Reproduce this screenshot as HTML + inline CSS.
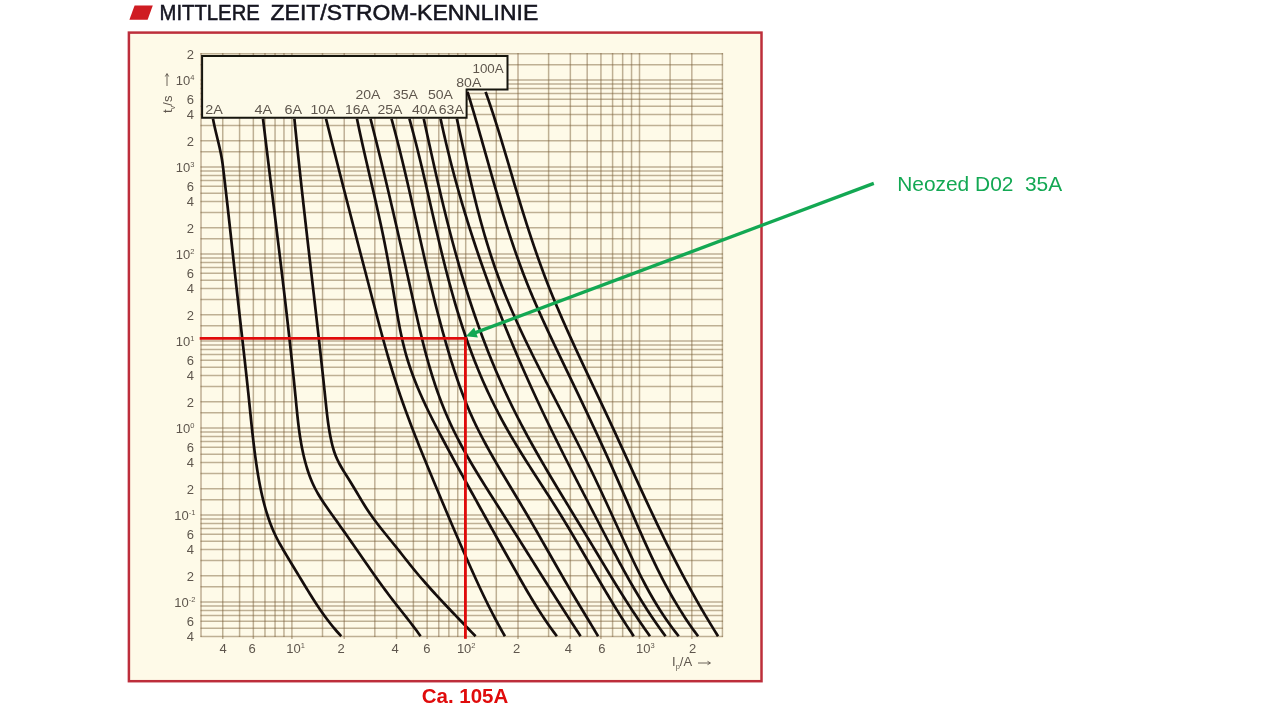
<!DOCTYPE html>
<html lang="de"><head><meta charset="utf-8"><title>Mittlere Zeit/Strom-Kennlinie</title>
<style>html,body{margin:0;padding:0;background:#fff;}body{width:1280px;height:720px;overflow:hidden;}svg{display:block;}text{font-family:"Liberation Sans",sans-serif;}</style>
</head><body>
<svg width="1280" height="720" viewBox="0 0 1280 720">
<defs><filter id="soft" x="-2%" y="-2%" width="104%" height="104%"><feGaussianBlur stdDeviation="0.55"/></filter><filter id="gsoft" x="-2%" y="-2%" width="104%" height="104%"><feGaussianBlur stdDeviation="0.4"/></filter><filter id="soft2" x="-2%" y="-2%" width="104%" height="104%"><feGaussianBlur stdDeviation="0.35"/></filter></defs>
<rect width="1280" height="720" fill="#ffffff"/>
<g filter="url(#soft2)">
<polygon points="134.6,5.5 152.8,5.5 147.6,19.8 129.4,19.8" fill="#cf1a22"/>
<text x="159.6" y="19.9" font-size="21.5" fill="#14141f" textLength="100.2" lengthAdjust="spacingAndGlyphs" stroke="#14141f" stroke-width="0.5">MITTLERE</text>
<text x="270.6" y="19.9" font-size="21.5" fill="#14141f" textLength="267.6" lengthAdjust="spacingAndGlyphs" stroke="#14141f" stroke-width="0.5">ZEIT/STROM-KENNLINIE</text>
</g>
<g filter="url(#soft)">
<rect x="128.9" y="32.6" width="632.6" height="648.6" fill="#fefae8" stroke="#bd2f3a" stroke-width="2.5"/>
<g stroke="#7a5f38" stroke-opacity="0.48" stroke-width="1.5" fill="none" filter="url(#gsoft)">
<line x1="201.02" y1="53.01" x2="201.02" y2="637.12"/>
<line x1="222.74" y1="53.01" x2="222.74" y2="639.12"/>
<line x1="239.58" y1="53.01" x2="239.58" y2="637.12"/>
<line x1="253.34" y1="53.01" x2="253.34" y2="639.12"/>
<line x1="264.98" y1="53.01" x2="264.98" y2="637.12"/>
<line x1="275.06" y1="53.01" x2="275.06" y2="637.12"/>
<line x1="283.95" y1="53.01" x2="283.95" y2="637.12"/>
<line x1="291.90" y1="53.01" x2="291.90" y2="639.12"/>
<line x1="322.50" y1="53.01" x2="322.50" y2="637.12"/>
<line x1="344.22" y1="53.01" x2="344.22" y2="639.12"/>
<line x1="374.82" y1="53.01" x2="374.82" y2="637.12"/>
<line x1="396.54" y1="53.01" x2="396.54" y2="639.12"/>
<line x1="413.38" y1="53.01" x2="413.38" y2="637.12"/>
<line x1="427.14" y1="53.01" x2="427.14" y2="639.12"/>
<line x1="438.78" y1="53.01" x2="438.78" y2="637.12"/>
<line x1="448.86" y1="53.01" x2="448.86" y2="637.12"/>
<line x1="457.75" y1="53.01" x2="457.75" y2="637.12"/>
<line x1="465.70" y1="53.01" x2="465.70" y2="639.12"/>
<line x1="496.30" y1="53.01" x2="496.30" y2="637.12"/>
<line x1="518.02" y1="53.01" x2="518.02" y2="639.12"/>
<line x1="548.62" y1="53.01" x2="548.62" y2="637.12"/>
<line x1="570.34" y1="53.01" x2="570.34" y2="639.12"/>
<line x1="587.18" y1="53.01" x2="587.18" y2="637.12"/>
<line x1="600.94" y1="53.01" x2="600.94" y2="639.12"/>
<line x1="612.58" y1="53.01" x2="612.58" y2="637.12"/>
<line x1="622.66" y1="53.01" x2="622.66" y2="637.12"/>
<line x1="631.55" y1="53.01" x2="631.55" y2="637.12"/>
<line x1="639.50" y1="53.01" x2="639.50" y2="639.12"/>
<line x1="670.10" y1="53.01" x2="670.10" y2="637.12"/>
<line x1="691.82" y1="53.01" x2="691.82" y2="639.12"/>
<line x1="722.42" y1="53.01" x2="722.42" y2="637.12"/>
<line x1="200.52" y1="636.62" x2="722.92" y2="636.62"/>
<line x1="200.52" y1="628.19" x2="722.92" y2="628.19"/>
<line x1="200.52" y1="621.30" x2="722.92" y2="621.30"/>
<line x1="200.52" y1="615.48" x2="722.92" y2="615.48"/>
<line x1="200.52" y1="610.43" x2="722.92" y2="610.43"/>
<line x1="200.52" y1="605.98" x2="722.92" y2="605.98"/>
<line x1="200.52" y1="602.00" x2="722.92" y2="602.00"/>
<line x1="200.52" y1="586.68" x2="722.92" y2="586.68"/>
<line x1="200.52" y1="575.81" x2="722.92" y2="575.81"/>
<line x1="200.52" y1="560.49" x2="722.92" y2="560.49"/>
<line x1="200.52" y1="549.62" x2="722.92" y2="549.62"/>
<line x1="200.52" y1="541.19" x2="722.92" y2="541.19"/>
<line x1="200.52" y1="534.30" x2="722.92" y2="534.30"/>
<line x1="200.52" y1="528.48" x2="722.92" y2="528.48"/>
<line x1="200.52" y1="523.43" x2="722.92" y2="523.43"/>
<line x1="200.52" y1="518.98" x2="722.92" y2="518.98"/>
<line x1="200.52" y1="515.00" x2="722.92" y2="515.00"/>
<line x1="200.52" y1="499.68" x2="722.92" y2="499.68"/>
<line x1="200.52" y1="488.81" x2="722.92" y2="488.81"/>
<line x1="200.52" y1="473.49" x2="722.92" y2="473.49"/>
<line x1="200.52" y1="462.62" x2="722.92" y2="462.62"/>
<line x1="200.52" y1="454.19" x2="722.92" y2="454.19"/>
<line x1="200.52" y1="447.30" x2="722.92" y2="447.30"/>
<line x1="200.52" y1="441.48" x2="722.92" y2="441.48"/>
<line x1="200.52" y1="436.43" x2="722.92" y2="436.43"/>
<line x1="200.52" y1="431.98" x2="722.92" y2="431.98"/>
<line x1="200.52" y1="428.00" x2="722.92" y2="428.00"/>
<line x1="200.52" y1="412.68" x2="722.92" y2="412.68"/>
<line x1="200.52" y1="401.81" x2="722.92" y2="401.81"/>
<line x1="200.52" y1="386.49" x2="722.92" y2="386.49"/>
<line x1="200.52" y1="375.62" x2="722.92" y2="375.62"/>
<line x1="200.52" y1="367.19" x2="722.92" y2="367.19"/>
<line x1="200.52" y1="360.30" x2="722.92" y2="360.30"/>
<line x1="200.52" y1="354.48" x2="722.92" y2="354.48"/>
<line x1="200.52" y1="349.43" x2="722.92" y2="349.43"/>
<line x1="200.52" y1="344.98" x2="722.92" y2="344.98"/>
<line x1="200.52" y1="341.00" x2="722.92" y2="341.00"/>
<line x1="200.52" y1="325.68" x2="722.92" y2="325.68"/>
<line x1="200.52" y1="314.81" x2="722.92" y2="314.81"/>
<line x1="200.52" y1="299.49" x2="722.92" y2="299.49"/>
<line x1="200.52" y1="288.62" x2="722.92" y2="288.62"/>
<line x1="200.52" y1="280.19" x2="722.92" y2="280.19"/>
<line x1="200.52" y1="273.30" x2="722.92" y2="273.30"/>
<line x1="200.52" y1="267.48" x2="722.92" y2="267.48"/>
<line x1="200.52" y1="262.43" x2="722.92" y2="262.43"/>
<line x1="200.52" y1="257.98" x2="722.92" y2="257.98"/>
<line x1="200.52" y1="254.00" x2="722.92" y2="254.00"/>
<line x1="200.52" y1="238.68" x2="722.92" y2="238.68"/>
<line x1="200.52" y1="227.81" x2="722.92" y2="227.81"/>
<line x1="200.52" y1="212.49" x2="722.92" y2="212.49"/>
<line x1="200.52" y1="201.62" x2="722.92" y2="201.62"/>
<line x1="200.52" y1="193.19" x2="722.92" y2="193.19"/>
<line x1="200.52" y1="186.30" x2="722.92" y2="186.30"/>
<line x1="200.52" y1="180.48" x2="722.92" y2="180.48"/>
<line x1="200.52" y1="175.43" x2="722.92" y2="175.43"/>
<line x1="200.52" y1="170.98" x2="722.92" y2="170.98"/>
<line x1="200.52" y1="167.00" x2="722.92" y2="167.00"/>
<line x1="200.52" y1="151.68" x2="722.92" y2="151.68"/>
<line x1="200.52" y1="140.81" x2="722.92" y2="140.81"/>
<line x1="200.52" y1="125.49" x2="722.92" y2="125.49"/>
<line x1="200.52" y1="114.62" x2="722.92" y2="114.62"/>
<line x1="200.52" y1="106.19" x2="722.92" y2="106.19"/>
<line x1="200.52" y1="99.30" x2="722.92" y2="99.30"/>
<line x1="200.52" y1="93.48" x2="722.92" y2="93.48"/>
<line x1="200.52" y1="88.43" x2="722.92" y2="88.43"/>
<line x1="200.52" y1="83.98" x2="722.92" y2="83.98"/>
<line x1="200.52" y1="80.00" x2="722.92" y2="80.00"/>
<line x1="200.52" y1="64.68" x2="722.92" y2="64.68"/>
<line x1="200.52" y1="53.81" x2="722.92" y2="53.81"/>
</g>
<polygon points="202.1,56 507.5,56 507.5,89.4 466.6,89.4 466.6,117.8 202.1,117.8" fill="#fdfae9" stroke="#17130f" stroke-width="2.0" stroke-linejoin="miter"/>
<g stroke="#15110d" stroke-width="2.7" fill="none" stroke-linecap="butt" stroke-linejoin="round">
<path d="M213.00 118.75 C213.16 119.58 213.64 122.08 213.99 123.75 C214.34 125.42 214.71 127.08 215.09 128.75 C215.47 130.42 215.87 132.08 216.27 133.75 C216.67 135.42 217.08 137.08 217.48 138.75 C217.88 140.42 218.29 142.08 218.68 143.75 C219.07 145.42 219.46 147.08 219.83 148.75 C220.20 150.42 220.56 152.08 220.89 153.75 C221.22 155.42 221.54 157.08 221.82 158.75 C222.11 160.42 222.35 162.08 222.59 163.75 C222.82 165.42 223.02 167.08 223.22 168.75 C223.43 170.42 223.62 172.08 223.82 173.75 C224.02 175.42 224.22 177.08 224.41 178.75 C224.61 180.42 224.80 182.08 225.00 183.75 C225.19 185.42 225.38 187.08 225.58 188.75 C225.77 190.42 225.96 192.08 226.15 193.75 C226.34 195.42 226.53 197.08 226.72 198.75 C226.91 200.42 227.10 202.08 227.29 203.75 C227.48 205.42 227.66 207.08 227.85 208.75 C228.04 210.42 228.22 212.08 228.41 213.75 C228.60 215.42 228.78 217.08 228.97 218.75 C229.15 220.42 229.34 222.08 229.52 223.75 C229.70 225.42 229.89 227.08 230.07 228.75 C230.25 230.42 230.44 232.08 230.62 233.75 C230.80 235.42 230.99 237.08 231.17 238.75 C231.35 240.42 231.53 242.08 231.71 243.75 C231.90 245.42 232.08 247.08 232.26 248.75 C232.44 250.42 232.62 252.08 232.80 253.75 C232.99 255.42 233.17 257.08 233.35 258.75 C233.53 260.42 233.71 262.08 233.89 263.75 C234.08 265.42 234.26 267.08 234.44 268.75 C234.62 270.42 234.80 272.08 234.99 273.75 C235.17 275.42 235.35 277.08 235.54 278.75 C235.72 280.42 235.90 282.08 236.09 283.75 C236.27 285.42 236.45 287.08 236.64 288.75 C236.82 290.42 237.01 292.08 237.19 293.75 C237.38 295.42 237.56 297.08 237.75 298.75 C237.94 300.42 238.12 302.08 238.31 303.75 C238.50 305.42 238.69 307.08 238.87 308.75 C239.06 310.42 239.25 312.08 239.44 313.75 C239.63 315.42 239.82 317.08 240.01 318.75 C240.20 320.42 240.39 322.08 240.58 323.75 C240.77 325.42 240.96 327.08 241.15 328.75 C241.34 330.42 241.53 332.08 241.72 333.75 C241.91 335.42 242.10 337.08 242.29 338.75 C242.48 340.42 242.67 342.08 242.86 343.75 C243.04 345.42 243.23 347.08 243.42 348.75 C243.61 350.42 243.80 352.08 243.99 353.75 C244.18 355.42 244.36 357.08 244.55 358.75 C244.74 360.42 244.92 362.08 245.11 363.75 C245.29 365.42 245.48 367.08 245.66 368.75 C245.85 370.42 246.03 372.08 246.22 373.75 C246.40 375.42 246.58 377.08 246.76 378.75 C246.94 380.42 247.12 382.08 247.30 383.75 C247.48 385.42 247.66 387.08 247.84 388.75 C248.01 390.42 248.19 392.08 248.37 393.75 C248.54 395.42 248.71 397.08 248.89 398.75 C249.06 400.42 249.23 402.08 249.40 403.75 C249.57 405.42 249.74 407.08 249.91 408.75 C250.08 410.42 250.25 412.08 250.42 413.75 C250.59 415.42 250.76 417.08 250.93 418.75 C251.10 420.42 251.27 422.08 251.45 423.75 C251.62 425.42 251.80 427.08 251.98 428.75 C252.15 430.42 252.34 432.08 252.52 433.75 C252.70 435.42 252.89 437.08 253.08 438.75 C253.27 440.42 253.47 442.08 253.67 443.75 C253.86 445.42 254.07 447.08 254.28 448.75 C254.48 450.42 254.70 452.08 254.92 453.75 C255.14 455.42 255.36 457.08 255.59 458.75 C255.82 460.42 256.06 462.08 256.30 463.75 C256.55 465.42 256.80 467.08 257.05 468.75 C257.31 470.42 257.58 472.08 257.85 473.75 C258.13 475.42 258.41 477.08 258.71 478.75 C259.01 480.42 259.31 482.08 259.63 483.75 C259.95 485.42 260.28 487.08 260.62 488.75 C260.97 490.42 261.32 492.08 261.70 493.75 C262.07 495.42 262.46 497.08 262.87 498.75 C263.27 500.42 263.69 502.08 264.13 503.75 C264.58 505.42 265.03 507.08 265.51 508.75 C265.99 510.42 266.49 512.08 267.01 513.75 C267.53 515.42 268.08 517.08 268.65 518.75 C269.22 520.42 269.82 522.08 270.45 523.75 C271.09 525.42 271.75 527.08 272.45 528.75 C273.14 530.42 273.88 532.08 274.65 533.75 C275.42 535.42 276.24 537.08 277.09 538.75 C277.95 540.42 278.85 542.08 279.77 543.75 C280.69 545.42 281.65 547.08 282.61 548.75 C283.58 550.42 284.57 552.08 285.56 553.75 C286.55 555.42 287.55 557.08 288.55 558.75 C289.55 560.42 290.56 562.08 291.57 563.75 C292.58 565.42 293.60 567.08 294.61 568.75 C295.62 570.42 296.63 572.08 297.64 573.75 C298.65 575.42 299.66 577.08 300.68 578.75 C301.69 580.42 302.70 582.08 303.71 583.75 C304.73 585.42 305.74 587.08 306.76 588.75 C307.78 590.42 308.80 592.08 309.83 593.75 C310.87 595.42 311.90 597.08 312.96 598.75 C314.02 600.42 315.09 602.08 316.19 603.75 C317.28 605.42 318.39 607.08 319.52 608.75 C320.66 610.42 321.82 612.08 323.01 613.75 C324.20 615.42 325.41 617.08 326.67 618.75 C327.92 620.42 329.20 622.08 330.53 623.75 C331.85 625.42 332.83 626.67 334.62 628.75 C336.40 630.83 340.14 635.00 341.25 636.25"/>
<path d="M263.00 118.75 C263.10 119.58 263.40 122.08 263.60 123.75 C263.80 125.42 264.01 127.08 264.21 128.75 C264.41 130.42 264.61 132.08 264.81 133.75 C265.01 135.42 265.22 137.08 265.42 138.75 C265.62 140.42 265.83 142.08 266.03 143.75 C266.23 145.42 266.44 147.08 266.64 148.75 C266.84 150.42 267.05 152.08 267.25 153.75 C267.46 155.42 267.66 157.08 267.86 158.75 C268.07 160.42 268.27 162.08 268.48 163.75 C268.68 165.42 268.89 167.08 269.09 168.75 C269.30 170.42 269.50 172.08 269.71 173.75 C269.91 175.42 270.12 177.08 270.33 178.75 C270.53 180.42 270.74 182.08 270.94 183.75 C271.15 185.42 271.35 187.08 271.56 188.75 C271.77 190.42 271.97 192.08 272.18 193.75 C272.38 195.42 272.59 197.08 272.80 198.75 C273.00 200.42 273.21 202.08 273.41 203.75 C273.62 205.42 273.82 207.08 274.03 208.75 C274.24 210.42 274.44 212.08 274.65 213.75 C274.85 215.42 275.06 217.08 275.26 218.75 C275.47 220.42 275.67 222.08 275.88 223.75 C276.08 225.42 276.29 227.08 276.49 228.75 C276.70 230.42 276.90 232.08 277.10 233.75 C277.31 235.42 277.51 237.08 277.72 238.75 C277.92 240.42 278.12 242.08 278.33 243.75 C278.53 245.42 278.73 247.08 278.94 248.75 C279.14 250.42 279.34 252.08 279.54 253.75 C279.75 255.42 279.95 257.08 280.15 258.75 C280.35 260.42 280.55 262.08 280.75 263.75 C280.95 265.42 281.15 267.08 281.35 268.75 C281.55 270.42 281.75 272.08 281.95 273.75 C282.15 275.42 282.35 277.08 282.55 278.75 C282.75 280.42 282.95 282.08 283.14 283.75 C283.34 285.42 283.54 287.08 283.73 288.75 C283.93 290.42 284.13 292.08 284.32 293.75 C284.52 295.42 284.71 297.08 284.91 298.75 C285.10 300.42 285.30 302.08 285.49 303.75 C285.68 305.42 285.88 307.08 286.07 308.75 C286.26 310.42 286.45 312.08 286.64 313.75 C286.83 315.42 287.02 317.08 287.21 318.75 C287.40 320.42 287.59 322.08 287.78 323.75 C287.97 325.42 288.16 327.08 288.35 328.75 C288.53 330.42 288.72 332.08 288.90 333.75 C289.09 335.42 289.28 337.08 289.46 338.75 C289.64 340.42 289.83 342.08 290.01 343.75 C290.19 345.42 290.37 347.08 290.56 348.75 C290.74 350.42 290.92 352.08 291.10 353.75 C291.28 355.42 291.46 357.08 291.63 358.75 C291.81 360.42 291.99 362.08 292.16 363.75 C292.34 365.42 292.52 367.08 292.69 368.75 C292.86 370.42 293.04 372.08 293.21 373.75 C293.38 375.42 293.55 377.08 293.73 378.75 C293.90 380.42 294.07 382.08 294.23 383.75 C294.40 385.42 294.57 387.08 294.74 388.75 C294.90 390.42 295.07 392.08 295.23 393.75 C295.40 395.42 295.56 397.08 295.73 398.75 C295.89 400.42 296.05 402.08 296.21 403.75 C296.37 405.42 296.53 407.08 296.70 408.75 C296.87 410.42 297.03 412.08 297.20 413.75 C297.38 415.42 297.55 417.08 297.73 418.75 C297.92 420.42 298.10 422.08 298.30 423.75 C298.50 425.42 298.71 427.08 298.92 428.75 C299.14 430.42 299.37 432.08 299.61 433.75 C299.85 435.42 300.10 437.08 300.37 438.75 C300.64 440.42 300.92 442.08 301.21 443.75 C301.51 445.42 301.83 447.08 302.16 448.75 C302.50 450.42 302.85 452.08 303.22 453.75 C303.60 455.42 303.99 457.08 304.40 458.75 C304.82 460.42 305.26 462.08 305.72 463.75 C306.19 465.42 306.67 467.08 307.19 468.75 C307.71 470.42 308.25 472.08 308.84 473.75 C309.42 475.42 310.04 477.08 310.70 478.75 C311.37 480.42 312.07 482.08 312.83 483.75 C313.59 485.42 314.39 487.08 315.26 488.75 C316.12 490.42 317.05 492.08 318.02 493.75 C318.99 495.42 320.02 497.08 321.07 498.75 C322.13 500.42 323.23 502.08 324.35 503.75 C325.47 505.42 326.63 507.08 327.79 508.75 C328.96 510.42 330.15 512.08 331.34 513.75 C332.53 515.42 333.74 517.08 334.93 518.75 C336.13 520.42 337.33 522.08 338.52 523.75 C339.71 525.42 340.89 527.08 342.07 528.75 C343.25 530.42 344.43 532.08 345.60 533.75 C346.78 535.42 347.95 537.08 349.11 538.75 C350.28 540.42 351.45 542.08 352.61 543.75 C353.77 545.42 354.93 547.08 356.09 548.75 C357.25 550.42 358.40 552.08 359.56 553.75 C360.71 555.42 361.87 557.08 363.02 558.75 C364.18 560.42 365.33 562.08 366.49 563.75 C367.65 565.42 368.81 567.08 369.98 568.75 C371.14 570.42 372.31 572.08 373.49 573.75 C374.66 575.42 375.84 577.08 377.03 578.75 C378.22 580.42 379.42 582.08 380.63 583.75 C381.83 585.42 383.05 587.08 384.27 588.75 C385.50 590.42 386.74 592.08 387.99 593.75 C389.24 595.42 390.50 597.08 391.78 598.75 C393.06 600.42 394.35 602.08 395.65 603.75 C396.96 605.42 398.27 607.08 399.59 608.75 C400.90 610.42 402.23 612.08 403.54 613.75 C404.86 615.42 406.18 617.08 407.49 618.75 C408.79 620.42 410.09 622.08 411.37 623.75 C412.65 625.42 413.63 626.67 415.17 628.75 C416.71 630.83 419.70 635.00 420.60 636.25"/>
<path d="M294.40 118.75 C294.48 119.58 294.73 122.08 294.89 123.75 C295.06 125.42 295.22 127.08 295.39 128.75 C295.56 130.42 295.73 132.08 295.90 133.75 C296.06 135.42 296.23 137.08 296.41 138.75 C296.58 140.42 296.75 142.08 296.92 143.75 C297.09 145.42 297.26 147.08 297.44 148.75 C297.61 150.42 297.79 152.08 297.96 153.75 C298.14 155.42 298.31 157.08 298.49 158.75 C298.67 160.42 298.84 162.08 299.02 163.75 C299.20 165.42 299.38 167.08 299.56 168.75 C299.74 170.42 299.92 172.08 300.10 173.75 C300.28 175.42 300.46 177.08 300.64 178.75 C300.82 180.42 301.00 182.08 301.19 183.75 C301.37 185.42 301.55 187.08 301.74 188.75 C301.92 190.42 302.10 192.08 302.29 193.75 C302.47 195.42 302.66 197.08 302.85 198.75 C303.03 200.42 303.22 202.08 303.40 203.75 C303.59 205.42 303.78 207.08 303.97 208.75 C304.15 210.42 304.34 212.08 304.53 213.75 C304.72 215.42 304.91 217.08 305.09 218.75 C305.28 220.42 305.47 222.08 305.66 223.75 C305.85 225.42 306.04 227.08 306.23 228.75 C306.42 230.42 306.61 232.08 306.80 233.75 C306.99 235.42 307.18 237.08 307.38 238.75 C307.57 240.42 307.76 242.08 307.95 243.75 C308.14 245.42 308.33 247.08 308.52 248.75 C308.72 250.42 308.91 252.08 309.10 253.75 C309.29 255.42 309.48 257.08 309.68 258.75 C309.87 260.42 310.06 262.08 310.25 263.75 C310.45 265.42 310.64 267.08 310.83 268.75 C311.02 270.42 311.22 272.08 311.41 273.75 C311.60 275.42 311.79 277.08 311.99 278.75 C312.18 280.42 312.37 282.08 312.56 283.75 C312.76 285.42 312.95 287.08 313.14 288.75 C313.33 290.42 313.52 292.08 313.72 293.75 C313.91 295.42 314.10 297.08 314.29 298.75 C314.48 300.42 314.68 302.08 314.87 303.75 C315.06 305.42 315.25 307.08 315.44 308.75 C315.63 310.42 315.82 312.08 316.01 313.75 C316.20 315.42 316.39 317.08 316.58 318.75 C316.77 320.42 316.96 322.08 317.15 323.75 C317.34 325.42 317.53 327.08 317.72 328.75 C317.91 330.42 318.10 332.08 318.29 333.75 C318.48 335.42 318.66 337.08 318.85 338.75 C319.04 340.42 319.22 342.08 319.41 343.75 C319.60 345.42 319.78 347.08 319.97 348.75 C320.16 350.42 320.34 352.08 320.53 353.75 C320.71 355.42 320.89 357.08 321.08 358.75 C321.26 360.42 321.45 362.08 321.63 363.75 C321.81 365.42 321.99 367.08 322.17 368.75 C322.36 370.42 322.54 372.08 322.72 373.75 C322.90 375.42 323.08 377.08 323.26 378.75 C323.44 380.42 323.61 382.08 323.79 383.75 C323.97 385.42 324.15 387.08 324.32 388.75 C324.50 390.42 324.68 392.08 324.85 393.75 C325.03 395.42 325.20 397.08 325.37 398.75 C325.55 400.42 325.72 402.08 325.89 403.75 C326.07 405.42 326.24 407.08 326.42 408.75 C326.61 410.42 326.79 412.08 326.98 413.75 C327.18 415.42 327.37 417.08 327.59 418.75 C327.80 420.42 328.02 422.08 328.26 423.75 C328.49 425.42 328.74 427.08 329.01 428.75 C329.28 430.42 329.56 432.08 329.87 433.75 C330.18 435.42 330.50 437.08 330.85 438.75 C331.20 440.42 331.57 442.08 331.97 443.75 C332.38 445.42 332.80 447.08 333.29 448.75 C333.78 450.42 334.30 452.08 334.91 453.75 C335.52 455.42 336.20 457.08 336.95 458.75 C337.71 460.42 338.54 462.08 339.42 463.75 C340.31 465.42 341.27 467.08 342.26 468.75 C343.24 470.42 344.29 472.08 345.33 473.75 C346.37 475.42 347.44 477.08 348.48 478.75 C349.52 480.42 350.55 482.08 351.56 483.75 C352.58 485.42 353.59 487.08 354.59 488.75 C355.59 490.42 356.58 492.08 357.58 493.75 C358.57 495.42 359.55 497.08 360.55 498.75 C361.55 500.42 362.54 502.08 363.56 503.75 C364.59 505.42 365.62 507.08 366.70 508.75 C367.79 510.42 368.90 512.08 370.06 513.75 C371.21 515.42 372.41 517.08 373.63 518.75 C374.85 520.42 376.11 522.08 377.39 523.75 C378.67 525.42 379.97 527.08 381.29 528.75 C382.61 530.42 383.95 532.08 385.29 533.75 C386.63 535.42 387.99 537.08 389.34 538.75 C390.69 540.42 392.06 542.08 393.40 543.75 C394.75 545.42 396.09 547.08 397.43 548.75 C398.76 550.42 400.07 552.08 401.39 553.75 C402.71 555.42 404.02 557.08 405.34 558.75 C406.66 560.42 407.98 562.08 409.32 563.75 C410.65 565.42 411.99 567.08 413.35 568.75 C414.72 570.42 416.10 572.08 417.50 573.75 C418.90 575.42 420.32 577.08 421.75 578.75 C423.19 580.42 424.64 582.08 426.11 583.75 C427.58 585.42 429.06 587.08 430.56 588.75 C432.06 590.42 433.57 592.08 435.09 593.75 C436.62 595.42 438.16 597.08 439.70 598.75 C441.25 600.42 442.81 602.08 444.38 603.75 C445.95 605.42 447.53 607.08 449.11 608.75 C450.70 610.42 452.29 612.08 453.88 613.75 C455.48 615.42 457.08 617.08 458.69 618.75 C460.30 620.42 461.91 622.08 463.52 623.75 C465.13 625.42 466.34 626.67 468.35 628.75 C470.37 630.83 474.39 635.00 475.60 636.25"/>
<path d="M326.00 118.75 C326.21 119.58 326.83 122.08 327.25 123.75 C327.67 125.42 328.09 127.08 328.51 128.75 C328.93 130.42 329.35 132.08 329.77 133.75 C330.19 135.42 330.62 137.08 331.04 138.75 C331.46 140.42 331.88 142.08 332.30 143.75 C332.73 145.42 333.15 147.08 333.57 148.75 C333.99 150.42 334.42 152.08 334.84 153.75 C335.27 155.42 335.69 157.08 336.11 158.75 C336.54 160.42 336.96 162.08 337.39 163.75 C337.82 165.42 338.24 167.08 338.67 168.75 C339.09 170.42 339.52 172.08 339.95 173.75 C340.37 175.42 340.80 177.08 341.23 178.75 C341.65 180.42 342.08 182.08 342.51 183.75 C342.94 185.42 343.37 187.08 343.79 188.75 C344.22 190.42 344.65 192.08 345.08 193.75 C345.51 195.42 345.94 197.08 346.37 198.75 C346.80 200.42 347.23 202.08 347.66 203.75 C348.09 205.42 348.52 207.08 348.95 208.75 C349.38 210.42 349.81 212.08 350.24 213.75 C350.67 215.42 351.10 217.08 351.53 218.75 C351.97 220.42 352.40 222.08 352.83 223.75 C353.26 225.42 353.69 227.08 354.13 228.75 C354.56 230.42 354.99 232.08 355.42 233.75 C355.86 235.42 356.29 237.08 356.72 238.75 C357.16 240.42 357.59 242.08 358.02 243.75 C358.45 245.42 358.89 247.08 359.32 248.75 C359.76 250.42 360.19 252.08 360.62 253.75 C361.06 255.42 361.49 257.08 361.93 258.75 C362.36 260.42 362.79 262.08 363.23 263.75 C363.66 265.42 364.10 267.08 364.53 268.75 C364.97 270.42 365.40 272.08 365.84 273.75 C366.27 275.42 366.71 277.08 367.14 278.75 C367.58 280.42 368.01 282.08 368.45 283.75 C368.88 285.42 369.32 287.08 369.75 288.75 C370.19 290.42 370.62 292.08 371.06 293.75 C371.49 295.42 371.93 297.08 372.36 298.75 C372.80 300.42 373.24 302.08 373.67 303.75 C374.11 305.42 374.54 307.08 374.98 308.75 C375.42 310.42 375.85 312.08 376.29 313.75 C376.73 315.42 377.17 317.08 377.61 318.75 C378.05 320.42 378.50 322.08 378.94 323.75 C379.38 325.42 379.83 327.08 380.28 328.75 C380.73 330.42 381.18 332.08 381.63 333.75 C382.08 335.42 382.54 337.08 383.00 338.75 C383.46 340.42 383.92 342.08 384.38 343.75 C384.85 345.42 385.31 347.08 385.79 348.75 C386.26 350.42 386.73 352.08 387.21 353.75 C387.69 355.42 388.18 357.08 388.66 358.75 C389.15 360.42 389.64 362.08 390.14 363.75 C390.64 365.42 391.14 367.08 391.65 368.75 C392.15 370.42 392.67 372.08 393.18 373.75 C393.70 375.42 394.23 377.08 394.76 378.75 C395.29 380.42 395.82 382.08 396.36 383.75 C396.90 385.42 397.45 387.08 398.01 388.75 C398.56 390.42 399.12 392.08 399.69 393.75 C400.26 395.42 400.83 397.08 401.41 398.75 C401.99 400.42 402.58 402.08 403.17 403.75 C403.77 405.42 404.37 407.08 404.97 408.75 C405.57 410.42 406.18 412.08 406.80 413.75 C407.41 415.42 408.03 417.08 408.66 418.75 C409.28 420.42 409.91 422.08 410.55 423.75 C411.18 425.42 411.82 427.08 412.46 428.75 C413.10 430.42 413.75 432.08 414.40 433.75 C415.05 435.42 415.71 437.08 416.37 438.75 C417.02 440.42 417.69 442.08 418.35 443.75 C419.01 445.42 419.68 447.08 420.35 448.75 C421.02 450.42 421.70 452.08 422.37 453.75 C423.05 455.42 423.73 457.08 424.41 458.75 C425.09 460.42 425.77 462.08 426.46 463.75 C427.14 465.42 427.83 467.08 428.51 468.75 C429.20 470.42 429.89 472.08 430.58 473.75 C431.27 475.42 431.96 477.08 432.66 478.75 C433.35 480.42 434.04 482.08 434.73 483.75 C435.43 485.42 436.12 487.08 436.82 488.75 C437.51 490.42 438.21 492.08 438.91 493.75 C439.60 495.42 440.30 497.08 441.00 498.75 C441.70 500.42 442.40 502.08 443.10 503.75 C443.80 505.42 444.50 507.08 445.21 508.75 C445.91 510.42 446.62 512.08 447.32 513.75 C448.03 515.42 448.73 517.08 449.44 518.75 C450.15 520.42 450.86 522.08 451.57 523.75 C452.28 525.42 453.00 527.08 453.71 528.75 C454.43 530.42 455.14 532.08 455.86 533.75 C456.58 535.42 457.30 537.08 458.02 538.75 C458.74 540.42 459.46 542.08 460.19 543.75 C460.91 545.42 461.64 547.08 462.37 548.75 C463.09 550.42 463.82 552.08 464.56 553.75 C465.29 555.42 466.02 557.08 466.76 558.75 C467.49 560.42 468.23 562.08 468.97 563.75 C469.71 565.42 470.45 567.08 471.20 568.75 C471.95 570.42 472.69 572.08 473.45 573.75 C474.20 575.42 474.95 577.08 475.71 578.75 C476.47 580.42 477.24 582.08 478.01 583.75 C478.78 585.42 479.55 587.08 480.34 588.75 C481.12 590.42 481.91 592.08 482.70 593.75 C483.49 595.42 484.30 597.08 485.11 598.75 C485.91 600.42 486.73 602.08 487.56 603.75 C488.38 605.42 489.22 607.08 490.06 608.75 C490.90 610.42 491.75 612.08 492.62 613.75 C493.48 615.42 494.35 617.08 495.24 618.75 C496.12 620.42 497.01 622.08 497.92 623.75 C498.83 625.42 499.50 626.67 500.67 628.75 C501.85 630.83 504.24 635.00 504.95 636.25"/>
<path d="M357.00 118.75 C357.17 119.58 357.68 122.08 358.03 123.75 C358.38 125.42 358.73 127.08 359.08 128.75 C359.43 130.42 359.79 132.08 360.15 133.75 C360.51 135.42 360.88 137.08 361.24 138.75 C361.61 140.42 361.98 142.08 362.35 143.75 C362.72 145.42 363.10 147.08 363.47 148.75 C363.85 150.42 364.23 152.08 364.61 153.75 C364.99 155.42 365.37 157.08 365.75 158.75 C366.14 160.42 366.52 162.08 366.91 163.75 C367.29 165.42 367.68 167.08 368.07 168.75 C368.45 170.42 368.84 172.08 369.23 173.75 C369.62 175.42 370.01 177.08 370.39 178.75 C370.78 180.42 371.17 182.08 371.56 183.75 C371.95 185.42 372.33 187.08 372.72 188.75 C373.11 190.42 373.50 192.08 373.88 193.75 C374.27 195.42 374.65 197.08 375.03 198.75 C375.42 200.42 375.80 202.08 376.18 203.75 C376.56 205.42 376.93 207.08 377.31 208.75 C377.69 210.42 378.06 212.08 378.43 213.75 C378.80 215.42 379.17 217.08 379.54 218.75 C379.90 220.42 380.27 222.08 380.63 223.75 C380.99 225.42 381.34 227.08 381.70 228.75 C382.05 230.42 382.40 232.08 382.75 233.75 C383.09 235.42 383.44 237.08 383.77 238.75 C384.11 240.42 384.45 242.08 384.78 243.75 C385.11 245.42 385.43 247.08 385.75 248.75 C386.08 250.42 386.40 252.08 386.71 253.75 C387.03 255.42 387.34 257.08 387.65 258.75 C387.95 260.42 388.26 262.08 388.56 263.75 C388.87 265.42 389.17 267.08 389.46 268.75 C389.76 270.42 390.06 272.08 390.35 273.75 C390.64 275.42 390.94 277.08 391.22 278.75 C391.51 280.42 391.80 282.08 392.09 283.75 C392.37 285.42 392.66 287.08 392.94 288.75 C393.23 290.42 393.51 292.08 393.79 293.75 C394.07 295.42 394.35 297.08 394.63 298.75 C394.91 300.42 395.19 302.08 395.47 303.75 C395.75 305.42 396.03 307.08 396.32 308.75 C396.60 310.42 396.88 312.08 397.17 313.75 C397.47 315.42 397.76 317.08 398.06 318.75 C398.36 320.42 398.66 322.08 398.98 323.75 C399.29 325.42 399.61 327.08 399.94 328.75 C400.27 330.42 400.61 332.08 400.96 333.75 C401.31 335.42 401.67 337.08 402.05 338.75 C402.42 340.42 402.81 342.08 403.21 343.75 C403.61 345.42 404.02 347.08 404.45 348.75 C404.88 350.42 405.33 352.08 405.79 353.75 C406.26 355.42 406.74 357.08 407.24 358.75 C407.74 360.42 408.26 362.08 408.80 363.75 C409.34 365.42 409.90 367.08 410.47 368.75 C411.05 370.42 411.64 372.08 412.25 373.75 C412.86 375.42 413.49 377.08 414.14 378.75 C414.78 380.42 415.44 382.08 416.11 383.75 C416.79 385.42 417.48 387.08 418.18 388.75 C418.89 390.42 419.60 392.08 420.33 393.75 C421.07 395.42 421.81 397.08 422.56 398.75 C423.32 400.42 424.09 402.08 424.87 403.75 C425.65 405.42 426.44 407.08 427.24 408.75 C428.03 410.42 428.85 412.08 429.66 413.75 C430.48 415.42 431.31 417.08 432.15 418.75 C432.98 420.42 433.83 422.08 434.68 423.75 C435.53 425.42 436.39 427.08 437.25 428.75 C438.12 430.42 438.99 432.08 439.86 433.75 C440.74 435.42 441.62 437.08 442.50 438.75 C443.39 440.42 444.28 442.08 445.17 443.75 C446.06 445.42 446.96 447.08 447.86 448.75 C448.75 450.42 449.65 452.08 450.55 453.75 C451.45 455.42 452.36 457.08 453.26 458.75 C454.16 460.42 455.07 462.08 455.98 463.75 C456.88 465.42 457.79 467.08 458.70 468.75 C459.61 470.42 460.52 472.08 461.43 473.75 C462.34 475.42 463.25 477.08 464.17 478.75 C465.08 480.42 466.00 482.08 466.91 483.75 C467.83 485.42 468.75 487.08 469.66 488.75 C470.58 490.42 471.50 492.08 472.42 493.75 C473.34 495.42 474.26 497.08 475.19 498.75 C476.11 500.42 477.03 502.08 477.96 503.75 C478.88 505.42 479.81 507.08 480.73 508.75 C481.66 510.42 482.59 512.08 483.51 513.75 C484.44 515.42 485.37 517.08 486.30 518.75 C487.23 520.42 488.16 522.08 489.09 523.75 C490.02 525.42 490.96 527.08 491.89 528.75 C492.82 530.42 493.75 532.08 494.69 533.75 C495.62 535.42 496.56 537.08 497.49 538.75 C498.43 540.42 499.36 542.08 500.30 543.75 C501.24 545.42 502.17 547.08 503.11 548.75 C504.05 550.42 504.99 552.08 505.92 553.75 C506.86 555.42 507.80 557.08 508.74 558.75 C509.68 560.42 510.62 562.08 511.56 563.75 C512.50 565.42 513.44 567.08 514.38 568.75 C515.32 570.42 516.26 572.08 517.21 573.75 C518.15 575.42 519.09 577.08 520.04 578.75 C520.99 580.42 521.94 582.08 522.89 583.75 C523.85 585.42 524.81 587.08 525.78 588.75 C526.75 590.42 527.73 592.08 528.71 593.75 C529.70 595.42 530.69 597.08 531.69 598.75 C532.70 600.42 533.71 602.08 534.74 603.75 C535.77 605.42 536.81 607.08 537.86 608.75 C538.92 610.42 539.99 612.08 541.07 613.75 C542.16 615.42 543.26 617.08 544.38 618.75 C545.50 620.42 546.64 622.08 547.79 623.75 C548.95 625.42 549.81 626.67 551.33 628.75 C552.84 630.83 555.95 635.00 556.87 636.25"/>
<path d="M370.50 118.75 C370.71 119.58 371.35 122.08 371.78 123.75 C372.21 125.42 372.63 127.08 373.05 128.75 C373.47 130.42 373.89 132.08 374.31 133.75 C374.73 135.42 375.15 137.08 375.57 138.75 C375.99 140.42 376.40 142.08 376.82 143.75 C377.23 145.42 377.64 147.08 378.05 148.75 C378.47 150.42 378.88 152.08 379.29 153.75 C379.70 155.42 380.10 157.08 380.51 158.75 C380.92 160.42 381.32 162.08 381.73 163.75 C382.13 165.42 382.54 167.08 382.94 168.75 C383.34 170.42 383.74 172.08 384.14 173.75 C384.54 175.42 384.94 177.08 385.34 178.75 C385.74 180.42 386.13 182.08 386.53 183.75 C386.93 185.42 387.32 187.08 387.72 188.75 C388.11 190.42 388.50 192.08 388.90 193.75 C389.29 195.42 389.68 197.08 390.07 198.75 C390.46 200.42 390.85 202.08 391.24 203.75 C391.63 205.42 392.02 207.08 392.41 208.75 C392.79 210.42 393.18 212.08 393.57 213.75 C393.95 215.42 394.34 217.08 394.72 218.75 C395.10 220.42 395.49 222.08 395.87 223.75 C396.25 225.42 396.64 227.08 397.02 228.75 C397.40 230.42 397.78 232.08 398.16 233.75 C398.54 235.42 398.92 237.08 399.30 238.75 C399.68 240.42 400.06 242.08 400.44 243.75 C400.82 245.42 401.20 247.08 401.57 248.75 C401.95 250.42 402.33 252.08 402.70 253.75 C403.08 255.42 403.46 257.08 403.83 258.75 C404.21 260.42 404.58 262.08 404.96 263.75 C405.33 265.42 405.71 267.08 406.08 268.75 C406.46 270.42 406.83 272.08 407.20 273.75 C407.58 275.42 407.95 277.08 408.32 278.75 C408.70 280.42 409.07 282.08 409.44 283.75 C409.82 285.42 410.19 287.08 410.56 288.75 C410.93 290.42 411.31 292.08 411.68 293.75 C412.05 295.42 412.42 297.08 412.79 298.75 C413.17 300.42 413.54 302.08 413.91 303.75 C414.28 305.42 414.66 307.08 415.03 308.75 C415.40 310.42 415.78 312.08 416.15 313.75 C416.53 315.42 416.91 317.08 417.29 318.75 C417.67 320.42 418.05 322.08 418.44 323.75 C418.83 325.42 419.21 327.08 419.61 328.75 C420.00 330.42 420.40 332.08 420.80 333.75 C421.20 335.42 421.60 337.08 422.01 338.75 C422.42 340.42 422.84 342.08 423.26 343.75 C423.68 345.42 424.11 347.08 424.54 348.75 C424.97 350.42 425.41 352.08 425.86 353.75 C426.30 355.42 426.76 357.08 427.22 358.75 C427.68 360.42 428.14 362.08 428.62 363.75 C429.10 365.42 429.58 367.08 430.07 368.75 C430.57 370.42 431.07 372.08 431.58 373.75 C432.09 375.42 432.62 377.08 433.15 378.75 C433.68 380.42 434.22 382.08 434.77 383.75 C435.33 385.42 435.89 387.08 436.47 388.75 C437.04 390.42 437.63 392.08 438.23 393.75 C438.83 395.42 439.44 397.08 440.06 398.75 C440.68 400.42 441.32 402.08 441.97 403.75 C442.62 405.42 443.28 407.08 443.96 408.75 C444.64 410.42 445.33 412.08 446.04 413.75 C446.74 415.42 447.47 417.08 448.20 418.75 C448.94 420.42 449.69 422.08 450.46 423.75 C451.23 425.42 452.01 427.08 452.81 428.75 C453.61 430.42 454.43 432.08 455.26 433.75 C456.09 435.42 456.93 437.08 457.79 438.75 C458.65 440.42 459.52 442.08 460.41 443.75 C461.29 445.42 462.19 447.08 463.10 448.75 C464.01 450.42 464.94 452.08 465.87 453.75 C466.81 455.42 467.76 457.08 468.72 458.75 C469.67 460.42 470.64 462.08 471.62 463.75 C472.60 465.42 473.60 467.08 474.59 468.75 C475.59 470.42 476.60 472.08 477.62 473.75 C478.63 475.42 479.66 477.08 480.69 478.75 C481.72 480.42 482.75 482.08 483.80 483.75 C484.84 485.42 485.88 487.08 486.93 488.75 C487.98 490.42 489.04 492.08 490.09 493.75 C491.15 495.42 492.21 497.08 493.27 498.75 C494.33 500.42 495.39 502.08 496.46 503.75 C497.52 505.42 498.58 507.08 499.64 508.75 C500.70 510.42 501.76 512.08 502.82 513.75 C503.88 515.42 504.93 517.08 505.99 518.75 C507.04 520.42 508.10 522.08 509.15 523.75 C510.20 525.42 511.25 527.08 512.31 528.75 C513.36 530.42 514.41 532.08 515.46 533.75 C516.51 535.42 517.55 537.08 518.60 538.75 C519.65 540.42 520.70 542.08 521.74 543.75 C522.79 545.42 523.84 547.08 524.89 548.75 C525.93 550.42 526.98 552.08 528.02 553.75 C529.07 555.42 530.12 557.08 531.16 558.75 C532.21 560.42 533.26 562.08 534.30 563.75 C535.35 565.42 536.40 567.08 537.45 568.75 C538.49 570.42 539.54 572.08 540.59 573.75 C541.64 575.42 542.69 577.08 543.74 578.75 C544.79 580.42 545.84 582.08 546.89 583.75 C547.95 585.42 549.00 587.08 550.05 588.75 C551.11 590.42 552.16 592.08 553.22 593.75 C554.28 595.42 555.34 597.08 556.39 598.75 C557.45 600.42 558.52 602.08 559.58 603.75 C560.64 605.42 561.71 607.08 562.77 608.75 C563.84 610.42 564.91 612.08 565.98 613.75 C567.05 615.42 568.12 617.08 569.20 618.75 C570.27 620.42 571.35 622.08 572.43 623.75 C573.51 625.42 574.31 626.67 575.67 628.75 C577.03 630.83 579.75 635.00 580.57 636.25"/>
<path d="M391.49 118.75 C391.72 119.58 392.41 122.08 392.86 123.75 C393.31 125.42 393.76 127.08 394.20 128.75 C394.64 130.42 395.08 132.08 395.52 133.75 C395.95 135.42 396.39 137.08 396.82 138.75 C397.25 140.42 397.67 142.08 398.09 143.75 C398.52 145.42 398.94 147.08 399.35 148.75 C399.77 150.42 400.18 152.08 400.59 153.75 C401.01 155.42 401.41 157.08 401.82 158.75 C402.23 160.42 402.63 162.08 403.03 163.75 C403.43 165.42 403.83 167.08 404.22 168.75 C404.62 170.42 405.01 172.08 405.40 173.75 C405.80 175.42 406.19 177.08 406.57 178.75 C406.96 180.42 407.35 182.08 407.73 183.75 C408.12 185.42 408.50 187.08 408.88 188.75 C409.26 190.42 409.64 192.08 410.02 193.75 C410.40 195.42 410.78 197.08 411.16 198.75 C411.53 200.42 411.91 202.08 412.28 203.75 C412.66 205.42 413.03 207.08 413.41 208.75 C413.78 210.42 414.15 212.08 414.53 213.75 C414.90 215.42 415.27 217.08 415.64 218.75 C416.01 220.42 416.39 222.08 416.76 223.75 C417.13 225.42 417.50 227.08 417.87 228.75 C418.24 230.42 418.62 232.08 418.99 233.75 C419.36 235.42 419.73 237.08 420.11 238.75 C420.48 240.42 420.85 242.08 421.23 243.75 C421.60 245.42 421.98 247.08 422.35 248.75 C422.73 250.42 423.11 252.08 423.48 253.75 C423.86 255.42 424.24 257.08 424.62 258.75 C425.00 260.42 425.38 262.08 425.77 263.75 C426.15 265.42 426.54 267.08 426.92 268.75 C427.31 270.42 427.70 272.08 428.09 273.75 C428.48 275.42 428.87 277.08 429.27 278.75 C429.66 280.42 430.06 282.08 430.45 283.75 C430.85 285.42 431.25 287.08 431.66 288.75 C432.06 290.42 432.47 292.08 432.88 293.75 C433.29 295.42 433.70 297.08 434.11 298.75 C434.53 300.42 434.94 302.08 435.36 303.75 C435.78 305.42 436.21 307.08 436.63 308.75 C437.06 310.42 437.49 312.08 437.92 313.75 C438.36 315.42 438.80 317.08 439.24 318.75 C439.68 320.42 440.12 322.08 440.57 323.75 C441.02 325.42 441.47 327.08 441.93 328.75 C442.38 330.42 442.84 332.08 443.31 333.75 C443.77 335.42 444.24 337.08 444.71 338.75 C445.19 340.42 445.66 342.08 446.15 343.75 C446.63 345.42 447.12 347.08 447.61 348.75 C448.10 350.42 448.60 352.08 449.10 353.75 C449.60 355.42 450.11 357.08 450.62 358.75 C451.13 360.42 451.65 362.08 452.17 363.75 C452.70 365.42 453.23 367.08 453.76 368.75 C454.30 370.42 454.84 372.08 455.40 373.75 C455.95 375.42 456.51 377.08 457.08 378.75 C457.65 380.42 458.22 382.08 458.81 383.75 C459.40 385.42 459.99 387.08 460.60 388.75 C461.21 390.42 461.83 392.08 462.46 393.75 C463.09 395.42 463.73 397.08 464.38 398.75 C465.04 400.42 465.70 402.08 466.38 403.75 C467.06 405.42 467.75 407.08 468.46 408.75 C469.17 410.42 469.89 412.08 470.62 413.75 C471.36 415.42 472.11 417.08 472.87 418.75 C473.64 420.42 474.42 422.08 475.22 423.75 C476.02 425.42 476.83 427.08 477.66 428.75 C478.49 430.42 479.33 432.08 480.18 433.75 C481.04 435.42 481.90 437.08 482.78 438.75 C483.66 440.42 484.55 442.08 485.45 443.75 C486.35 445.42 487.27 447.08 488.19 448.75 C489.11 450.42 490.04 452.08 490.98 453.75 C491.92 455.42 492.87 457.08 493.82 458.75 C494.78 460.42 495.74 462.08 496.71 463.75 C497.68 465.42 498.65 467.08 499.63 468.75 C500.61 470.42 501.60 472.08 502.59 473.75 C503.57 475.42 504.57 477.08 505.56 478.75 C506.56 480.42 507.56 482.08 508.55 483.75 C509.55 485.42 510.56 487.08 511.56 488.75 C512.56 490.42 513.56 492.08 514.56 493.75 C515.56 495.42 516.56 497.08 517.56 498.75 C518.56 500.42 519.56 502.08 520.55 503.75 C521.55 505.42 522.54 507.08 523.53 508.75 C524.51 510.42 525.49 512.08 526.47 513.75 C527.45 515.42 528.43 517.08 529.40 518.75 C530.37 520.42 531.34 522.08 532.30 523.75 C533.27 525.42 534.23 527.08 535.19 528.75 C536.15 530.42 537.11 532.08 538.06 533.75 C539.02 535.42 539.97 537.08 540.92 538.75 C541.88 540.42 542.83 542.08 543.78 543.75 C544.73 545.42 545.67 547.08 546.62 548.75 C547.57 550.42 548.52 552.08 549.47 553.75 C550.42 555.42 551.37 557.08 552.32 558.75 C553.27 560.42 554.22 562.08 555.17 563.75 C556.12 565.42 557.08 567.08 558.03 568.75 C558.99 570.42 559.94 572.08 560.90 573.75 C561.86 575.42 562.82 577.08 563.79 578.75 C564.75 580.42 565.72 582.08 566.69 583.75 C567.66 585.42 568.63 587.08 569.61 588.75 C570.59 590.42 571.57 592.08 572.56 593.75 C573.54 595.42 574.53 597.08 575.53 598.75 C576.53 600.42 577.53 602.08 578.53 603.75 C579.54 605.42 580.55 607.08 581.56 608.75 C582.57 610.42 583.58 612.08 584.59 613.75 C585.60 615.42 586.62 617.08 587.63 618.75 C588.64 620.42 589.65 622.08 590.66 623.75 C591.66 625.42 592.42 626.67 593.66 628.75 C594.91 630.83 597.37 635.00 598.12 636.25"/>
<path d="M409.40 118.75 C409.63 119.58 410.33 122.08 410.78 123.75 C411.24 125.42 411.69 127.08 412.14 128.75 C412.59 130.42 413.03 132.08 413.47 133.75 C413.91 135.42 414.34 137.08 414.77 138.75 C415.20 140.42 415.63 142.08 416.06 143.75 C416.48 145.42 416.90 147.08 417.32 148.75 C417.73 150.42 418.15 152.08 418.56 153.75 C418.97 155.42 419.38 157.08 419.78 158.75 C420.19 160.42 420.59 162.08 420.99 163.75 C421.39 165.42 421.79 167.08 422.18 168.75 C422.58 170.42 422.97 172.08 423.36 173.75 C423.76 175.42 424.15 177.08 424.53 178.75 C424.92 180.42 425.31 182.08 425.70 183.75 C426.08 185.42 426.47 187.08 426.85 188.75 C427.23 190.42 427.61 192.08 428.00 193.75 C428.38 195.42 428.76 197.08 429.14 198.75 C429.52 200.42 429.90 202.08 430.28 203.75 C430.66 205.42 431.04 207.08 431.42 208.75 C431.80 210.42 432.18 212.08 432.56 213.75 C432.95 215.42 433.33 217.08 433.71 218.75 C434.09 220.42 434.47 222.08 434.86 223.75 C435.24 225.42 435.63 227.08 436.01 228.75 C436.40 230.42 436.79 232.08 437.18 233.75 C437.57 235.42 437.96 237.08 438.35 238.75 C438.74 240.42 439.14 242.08 439.53 243.75 C439.93 245.42 440.33 247.08 440.73 248.75 C441.13 250.42 441.54 252.08 441.94 253.75 C442.35 255.42 442.76 257.08 443.17 258.75 C443.58 260.42 444.00 262.08 444.42 263.75 C444.84 265.42 445.26 267.08 445.68 268.75 C446.11 270.42 446.54 272.08 446.97 273.75 C447.40 275.42 447.84 277.08 448.28 278.75 C448.72 280.42 449.17 282.08 449.62 283.75 C450.07 285.42 450.52 287.08 450.98 288.75 C451.44 290.42 451.90 292.08 452.37 293.75 C452.84 295.42 453.31 297.08 453.79 298.75 C454.27 300.42 454.75 302.08 455.24 303.75 C455.73 305.42 456.23 307.08 456.73 308.75 C457.23 310.42 457.74 312.08 458.25 313.75 C458.76 315.42 459.28 317.08 459.81 318.75 C460.33 320.42 460.86 322.08 461.40 323.75 C461.94 325.42 462.49 327.08 463.04 328.75 C463.59 330.42 464.15 332.08 464.72 333.75 C465.28 335.42 465.86 337.08 466.44 338.75 C467.02 340.42 467.61 342.08 468.21 343.75 C468.80 345.42 469.41 347.08 470.02 348.75 C470.63 350.42 471.25 352.08 471.88 353.75 C472.51 355.42 473.15 357.08 473.80 358.75 C474.44 360.42 475.10 362.08 475.76 363.75 C476.43 365.42 477.10 367.08 477.78 368.75 C478.46 370.42 479.15 372.08 479.86 373.75 C480.56 375.42 481.27 377.08 481.99 378.75 C482.71 380.42 483.44 382.08 484.18 383.75 C484.92 385.42 485.67 387.08 486.43 388.75 C487.19 390.42 487.96 392.08 488.74 393.75 C489.53 395.42 490.32 397.08 491.12 398.75 C491.93 400.42 492.74 402.08 493.57 403.75 C494.39 405.42 495.23 407.08 496.08 408.75 C496.93 410.42 497.79 412.08 498.66 413.75 C499.53 415.42 500.41 417.08 501.31 418.75 C502.21 420.42 503.11 422.08 504.03 423.75 C504.95 425.42 505.89 427.08 506.83 428.75 C507.77 430.42 508.72 432.08 509.69 433.75 C510.65 435.42 511.62 437.08 512.60 438.75 C513.59 440.42 514.58 442.08 515.58 443.75 C516.58 445.42 517.59 447.08 518.61 448.75 C519.62 450.42 520.65 452.08 521.68 453.75 C522.71 455.42 523.75 457.08 524.80 458.75 C525.84 460.42 526.89 462.08 527.95 463.75 C529.01 465.42 530.07 467.08 531.14 468.75 C532.21 470.42 533.28 472.08 534.35 473.75 C535.43 475.42 536.50 477.08 537.58 478.75 C538.66 480.42 539.74 482.08 540.82 483.75 C541.90 485.42 542.98 487.08 544.06 488.75 C545.14 490.42 546.22 492.08 547.29 493.75 C548.37 495.42 549.44 497.08 550.51 498.75 C551.58 500.42 552.64 502.08 553.70 503.75 C554.75 505.42 555.81 507.08 556.85 508.75 C557.90 510.42 558.93 512.08 559.96 513.75 C560.99 515.42 562.02 517.08 563.03 518.75 C564.05 520.42 565.06 522.08 566.07 523.75 C567.07 525.42 568.07 527.08 569.07 528.75 C570.06 530.42 571.05 532.08 572.04 533.75 C573.02 535.42 574.00 537.08 574.98 538.75 C575.96 540.42 576.94 542.08 577.91 543.75 C578.88 545.42 579.85 547.08 580.82 548.75 C581.79 550.42 582.75 552.08 583.72 553.75 C584.68 555.42 585.65 557.08 586.61 558.75 C587.57 560.42 588.54 562.08 589.50 563.75 C590.46 565.42 591.42 567.08 592.39 568.75 C593.35 570.42 594.32 572.08 595.29 573.75 C596.25 575.42 597.22 577.08 598.19 578.75 C599.16 580.42 600.14 582.08 601.11 583.75 C602.09 585.42 603.07 587.08 604.05 588.75 C605.04 590.42 606.02 592.08 607.02 593.75 C608.01 595.42 609.00 597.08 610.01 598.75 C611.01 600.42 612.02 602.08 613.03 603.75 C614.04 605.42 615.06 607.08 616.09 608.75 C617.12 610.42 618.15 612.08 619.19 613.75 C620.23 615.42 621.28 617.08 622.33 618.75 C623.39 620.42 624.45 622.08 625.53 623.75 C626.60 625.42 627.40 626.67 628.77 628.75 C630.15 630.83 632.93 635.00 633.76 636.25"/>
<path d="M423.75 118.75 C423.94 119.58 424.48 122.08 424.84 123.75 C425.21 125.42 425.57 127.08 425.93 128.75 C426.30 130.42 426.66 132.08 427.02 133.75 C427.39 135.42 427.75 137.08 428.12 138.75 C428.48 140.42 428.85 142.08 429.21 143.75 C429.58 145.42 429.95 147.08 430.31 148.75 C430.68 150.42 431.05 152.08 431.42 153.75 C431.79 155.42 432.16 157.08 432.53 158.75 C432.90 160.42 433.27 162.08 433.65 163.75 C434.02 165.42 434.40 167.08 434.77 168.75 C435.15 170.42 435.52 172.08 435.90 173.75 C436.28 175.42 436.66 177.08 437.04 178.75 C437.43 180.42 437.81 182.08 438.19 183.75 C438.58 185.42 438.97 187.08 439.36 188.75 C439.74 190.42 440.13 192.08 440.53 193.75 C440.92 195.42 441.32 197.08 441.71 198.75 C442.11 200.42 442.51 202.08 442.91 203.75 C443.31 205.42 443.71 207.08 444.12 208.75 C444.53 210.42 444.94 212.08 445.35 213.75 C445.76 215.42 446.17 217.08 446.59 218.75 C447.00 220.42 447.42 222.08 447.84 223.75 C448.27 225.42 448.69 227.08 449.12 228.75 C449.55 230.42 449.98 232.08 450.41 233.75 C450.85 235.42 451.28 237.08 451.72 238.75 C452.16 240.42 452.61 242.08 453.05 243.75 C453.50 245.42 453.95 247.08 454.40 248.75 C454.86 250.42 455.32 252.08 455.78 253.75 C456.24 255.42 456.70 257.08 457.17 258.75 C457.64 260.42 458.11 262.08 458.59 263.75 C459.06 265.42 459.54 267.08 460.03 268.75 C460.51 270.42 461.00 272.08 461.49 273.75 C461.99 275.42 462.48 277.08 462.98 278.75 C463.49 280.42 463.99 282.08 464.50 283.75 C465.01 285.42 465.52 287.08 466.04 288.75 C466.56 290.42 467.09 292.08 467.62 293.75 C468.14 295.42 468.68 297.08 469.22 298.75 C469.75 300.42 470.30 302.08 470.84 303.75 C471.39 305.42 471.95 307.08 472.50 308.75 C473.06 310.42 473.63 312.08 474.20 313.75 C474.76 315.42 475.34 317.08 475.92 318.75 C476.50 320.42 477.08 322.08 477.67 323.75 C478.26 325.42 478.86 327.08 479.46 328.75 C480.06 330.42 480.67 332.08 481.29 333.75 C481.90 335.42 482.52 337.08 483.14 338.75 C483.77 340.42 484.40 342.08 485.04 343.75 C485.68 345.42 486.32 347.08 486.97 348.75 C487.62 350.42 488.28 352.08 488.94 353.75 C489.60 355.42 490.27 357.08 490.95 358.75 C491.62 360.42 492.31 362.08 492.99 363.75 C493.68 365.42 494.38 367.08 495.08 368.75 C495.78 370.42 496.49 372.08 497.21 373.75 C497.93 375.42 498.65 377.08 499.38 378.75 C500.11 380.42 500.85 382.08 501.59 383.75 C502.34 385.42 503.09 387.08 503.85 388.75 C504.61 390.42 505.37 392.08 506.15 393.75 C506.92 395.42 507.71 397.08 508.49 398.75 C509.28 400.42 510.08 402.08 510.89 403.75 C511.69 405.42 512.50 407.08 513.32 408.75 C514.14 410.42 514.97 412.08 515.81 413.75 C516.65 415.42 517.49 417.08 518.34 418.75 C519.20 420.42 520.06 422.08 520.93 423.75 C521.80 425.42 522.67 427.08 523.56 428.75 C524.44 430.42 525.33 432.08 526.23 433.75 C527.13 435.42 528.04 437.08 528.95 438.75 C529.86 440.42 530.78 442.08 531.71 443.75 C532.63 445.42 533.57 447.08 534.50 448.75 C535.44 450.42 536.39 452.08 537.33 453.75 C538.28 455.42 539.24 457.08 540.20 458.75 C541.16 460.42 542.12 462.08 543.09 463.75 C544.06 465.42 545.03 467.08 546.01 468.75 C546.98 470.42 547.96 472.08 548.95 473.75 C549.93 475.42 550.92 477.08 551.91 478.75 C552.91 480.42 553.90 482.08 554.90 483.75 C555.90 485.42 556.90 487.08 557.90 488.75 C558.90 490.42 559.91 492.08 560.91 493.75 C561.92 495.42 562.93 497.08 563.94 498.75 C564.95 500.42 565.96 502.08 566.98 503.75 C567.99 505.42 569.00 507.08 570.02 508.75 C571.03 510.42 572.05 512.08 573.06 513.75 C574.08 515.42 575.10 517.08 576.11 518.75 C577.13 520.42 578.14 522.08 579.16 523.75 C580.17 525.42 581.19 527.08 582.20 528.75 C583.21 530.42 584.22 532.08 585.24 533.75 C586.25 535.42 587.26 537.08 588.26 538.75 C589.27 540.42 590.27 542.08 591.28 543.75 C592.28 545.42 593.28 547.08 594.29 548.75 C595.29 550.42 596.29 552.08 597.29 553.75 C598.29 555.42 599.29 557.08 600.29 558.75 C601.29 560.42 602.29 562.08 603.30 563.75 C604.30 565.42 605.30 567.08 606.31 568.75 C607.32 570.42 608.33 572.08 609.34 573.75 C610.35 575.42 611.36 577.08 612.38 578.75 C613.40 580.42 614.42 582.08 615.44 583.75 C616.47 585.42 617.50 587.08 618.53 588.75 C619.57 590.42 620.61 592.08 621.65 593.75 C622.70 595.42 623.75 597.08 624.80 598.75 C625.86 600.42 626.92 602.08 627.99 603.75 C629.06 605.42 630.14 607.08 631.23 608.75 C632.31 610.42 633.40 612.08 634.51 613.75 C635.61 615.42 636.72 617.08 637.84 618.75 C638.95 620.42 640.08 622.08 641.22 623.75 C642.36 625.42 643.21 626.67 644.66 628.75 C646.12 630.83 649.07 635.00 649.95 636.25"/>
<path d="M440.57 118.75 C440.75 119.58 441.29 122.08 441.65 123.75 C442.02 125.42 442.38 127.08 442.76 128.75 C443.13 130.42 443.50 132.08 443.88 133.75 C444.26 135.42 444.65 137.08 445.04 138.75 C445.42 140.42 445.82 142.08 446.21 143.75 C446.61 145.42 447.01 147.08 447.41 148.75 C447.82 150.42 448.23 152.08 448.64 153.75 C449.05 155.42 449.47 157.08 449.89 158.75 C450.31 160.42 450.73 162.08 451.16 163.75 C451.59 165.42 452.02 167.08 452.46 168.75 C452.89 170.42 453.33 172.08 453.78 173.75 C454.22 175.42 454.67 177.08 455.12 178.75 C455.57 180.42 456.03 182.08 456.49 183.75 C456.95 185.42 457.41 187.08 457.88 188.75 C458.35 190.42 458.82 192.08 459.29 193.75 C459.77 195.42 460.25 197.08 460.73 198.75 C461.21 200.42 461.70 202.08 462.19 203.75 C462.68 205.42 463.18 207.08 463.68 208.75 C464.18 210.42 464.68 212.08 465.18 213.75 C465.69 215.42 466.20 217.08 466.72 218.75 C467.23 220.42 467.75 222.08 468.27 223.75 C468.79 225.42 469.32 227.08 469.85 228.75 C470.38 230.42 470.91 232.08 471.45 233.75 C471.98 235.42 472.52 237.08 473.07 238.75 C473.61 240.42 474.16 242.08 474.71 243.75 C475.27 245.42 475.82 247.08 476.38 248.75 C476.94 250.42 477.50 252.08 478.07 253.75 C478.64 255.42 479.21 257.08 479.78 258.75 C480.36 260.42 480.94 262.08 481.52 263.75 C482.10 265.42 482.69 267.08 483.28 268.75 C483.87 270.42 484.46 272.08 485.06 273.75 C485.65 275.42 486.25 277.08 486.86 278.75 C487.46 280.42 488.07 282.08 488.68 283.75 C489.29 285.42 489.91 287.08 490.53 288.75 C491.15 290.42 491.77 292.08 492.39 293.75 C493.02 295.42 493.65 297.08 494.28 298.75 C494.92 300.42 495.55 302.08 496.19 303.75 C496.84 305.42 497.48 307.08 498.13 308.75 C498.78 310.42 499.43 312.08 500.08 313.75 C500.74 315.42 501.40 317.08 502.06 318.75 C502.72 320.42 503.39 322.08 504.05 323.75 C504.72 325.42 505.40 327.08 506.07 328.75 C506.75 330.42 507.43 332.08 508.11 333.75 C508.80 335.42 509.48 337.08 510.17 338.75 C510.86 340.42 511.56 342.08 512.26 343.75 C512.95 345.42 513.66 347.08 514.36 348.75 C515.06 350.42 515.77 352.08 516.48 353.75 C517.20 355.42 517.91 357.08 518.63 358.75 C519.35 360.42 520.07 362.08 520.79 363.75 C521.52 365.42 522.25 367.08 522.98 368.75 C523.71 370.42 524.45 372.08 525.19 373.75 C525.93 375.42 526.67 377.08 527.42 378.75 C528.16 380.42 528.91 382.08 529.66 383.75 C530.42 385.42 531.17 387.08 531.93 388.75 C532.69 390.42 533.46 392.08 534.22 393.75 C534.99 395.42 535.76 397.08 536.53 398.75 C537.30 400.42 538.08 402.08 538.86 403.75 C539.64 405.42 540.42 407.08 541.21 408.75 C542.00 410.42 542.79 412.08 543.58 413.75 C544.37 415.42 545.17 417.08 545.97 418.75 C546.77 420.42 547.57 422.08 548.38 423.75 C549.18 425.42 549.99 427.08 550.81 428.75 C551.62 430.42 552.43 432.08 553.25 433.75 C554.07 435.42 554.89 437.08 555.72 438.75 C556.54 440.42 557.37 442.08 558.20 443.75 C559.02 445.42 559.86 447.08 560.69 448.75 C561.52 450.42 562.36 452.08 563.20 453.75 C564.04 455.42 564.88 457.08 565.72 458.75 C566.56 460.42 567.41 462.08 568.25 463.75 C569.10 465.42 569.95 467.08 570.80 468.75 C571.65 470.42 572.50 472.08 573.35 473.75 C574.20 475.42 575.06 477.08 575.92 478.75 C576.77 480.42 577.63 482.08 578.49 483.75 C579.34 485.42 580.20 487.08 581.06 488.75 C581.92 490.42 582.79 492.08 583.65 493.75 C584.51 495.42 585.37 497.08 586.24 498.75 C587.10 500.42 587.96 502.08 588.83 503.75 C589.69 505.42 590.56 507.08 591.42 508.75 C592.29 510.42 593.16 512.08 594.02 513.75 C594.89 515.42 595.75 517.08 596.62 518.75 C597.49 520.42 598.35 522.08 599.22 523.75 C600.08 525.42 600.95 527.08 601.81 528.75 C602.68 530.42 603.54 532.08 604.41 533.75 C605.27 535.42 606.14 537.08 607.01 538.75 C607.87 540.42 608.74 542.08 609.61 543.75 C610.48 545.42 611.35 547.08 612.22 548.75 C613.10 550.42 613.98 552.08 614.86 553.75 C615.74 555.42 616.62 557.08 617.51 558.75 C618.40 560.42 619.30 562.08 620.20 563.75 C621.10 565.42 622.00 567.08 622.91 568.75 C623.83 570.42 624.74 572.08 625.67 573.75 C626.60 575.42 627.53 577.08 628.47 578.75 C629.41 580.42 630.36 582.08 631.32 583.75 C632.28 585.42 633.25 587.08 634.22 588.75 C635.20 590.42 636.19 592.08 637.19 593.75 C638.19 595.42 639.20 597.08 640.22 598.75 C641.24 600.42 642.27 602.08 643.32 603.75 C644.37 605.42 645.42 607.08 646.50 608.75 C647.57 610.42 648.65 612.08 649.75 613.75 C650.86 615.42 651.97 617.08 653.10 618.75 C654.23 620.42 655.38 622.08 656.54 623.75 C657.70 625.42 658.57 626.67 660.07 628.75 C661.58 630.83 664.65 635.00 665.57 636.25"/>
<path d="M456.89 118.75 C457.07 119.58 457.61 122.08 457.97 123.75 C458.33 125.42 458.69 127.08 459.06 128.75 C459.42 130.42 459.78 132.08 460.14 133.75 C460.50 135.42 460.86 137.08 461.22 138.75 C461.58 140.42 461.94 142.08 462.30 143.75 C462.66 145.42 463.02 147.08 463.39 148.75 C463.75 150.42 464.12 152.08 464.48 153.75 C464.85 155.42 465.21 157.08 465.58 158.75 C465.95 160.42 466.32 162.08 466.69 163.75 C467.07 165.42 467.44 167.08 467.82 168.75 C468.19 170.42 468.57 172.08 468.95 173.75 C469.33 175.42 469.71 177.08 470.10 178.75 C470.49 180.42 470.88 182.08 471.27 183.75 C471.66 185.42 472.05 187.08 472.45 188.75 C472.85 190.42 473.25 192.08 473.66 193.75 C474.06 195.42 474.47 197.08 474.89 198.75 C475.30 200.42 475.72 202.08 476.14 203.75 C476.56 205.42 476.98 207.08 477.41 208.75 C477.84 210.42 478.28 212.08 478.72 213.75 C479.16 215.42 479.60 217.08 480.05 218.75 C480.50 220.42 480.96 222.08 481.42 223.75 C481.88 225.42 482.34 227.08 482.82 228.75 C483.29 230.42 483.77 232.08 484.25 233.75 C484.73 235.42 485.22 237.08 485.72 238.75 C486.21 240.42 486.72 242.08 487.23 243.75 C487.74 245.42 488.25 247.08 488.77 248.75 C489.30 250.42 489.83 252.08 490.36 253.75 C490.90 255.42 491.45 257.08 492.00 258.75 C492.55 260.42 493.11 262.08 493.68 263.75 C494.24 265.42 494.82 267.08 495.40 268.75 C495.99 270.42 496.58 272.08 497.18 273.75 C497.78 275.42 498.39 277.08 499.00 278.75 C499.62 280.42 500.25 282.08 500.88 283.75 C501.52 285.42 502.16 287.08 502.82 288.75 C503.47 290.42 504.13 292.08 504.80 293.75 C505.47 295.42 506.15 297.08 506.84 298.75 C507.53 300.42 508.22 302.08 508.93 303.75 C509.63 305.42 510.34 307.08 511.06 308.75 C511.78 310.42 512.50 312.08 513.24 313.75 C513.97 315.42 514.71 317.08 515.46 318.75 C516.20 320.42 516.96 322.08 517.72 323.75 C518.48 325.42 519.24 327.08 520.01 328.75 C520.78 330.42 521.56 332.08 522.34 333.75 C523.13 335.42 523.92 337.08 524.71 338.75 C525.50 340.42 526.30 342.08 527.10 343.75 C527.91 345.42 528.72 347.08 529.53 348.75 C530.34 350.42 531.16 352.08 531.98 353.75 C532.80 355.42 533.62 357.08 534.45 358.75 C535.28 360.42 536.11 362.08 536.95 363.75 C537.78 365.42 538.62 367.08 539.46 368.75 C540.31 370.42 541.15 372.08 542.00 373.75 C542.84 375.42 543.69 377.08 544.54 378.75 C545.40 380.42 546.25 382.08 547.10 383.75 C547.96 385.42 548.82 387.08 549.68 388.75 C550.53 390.42 551.39 392.08 552.25 393.75 C553.11 395.42 553.98 397.08 554.84 398.75 C555.70 400.42 556.56 402.08 557.43 403.75 C558.29 405.42 559.15 407.08 560.02 408.75 C560.88 410.42 561.74 412.08 562.61 413.75 C563.47 415.42 564.33 417.08 565.19 418.75 C566.05 420.42 566.91 422.08 567.77 423.75 C568.63 425.42 569.49 427.08 570.34 428.75 C571.20 430.42 572.05 432.08 572.91 433.75 C573.76 435.42 574.61 437.08 575.46 438.75 C576.30 440.42 577.15 442.08 577.99 443.75 C578.84 445.42 579.68 447.08 580.51 448.75 C581.35 450.42 582.18 452.08 583.01 453.75 C583.84 455.42 584.67 457.08 585.49 458.75 C586.31 460.42 587.13 462.08 587.95 463.75 C588.76 465.42 589.57 467.08 590.38 468.75 C591.18 470.42 591.99 472.08 592.78 473.75 C593.58 475.42 594.38 477.08 595.17 478.75 C595.96 480.42 596.75 482.08 597.53 483.75 C598.32 485.42 599.10 487.08 599.88 488.75 C600.66 490.42 601.44 492.08 602.21 493.75 C602.99 495.42 603.76 497.08 604.53 498.75 C605.30 500.42 606.07 502.08 606.84 503.75 C607.61 505.42 608.38 507.08 609.14 508.75 C609.91 510.42 610.68 512.08 611.44 513.75 C612.21 515.42 612.97 517.08 613.73 518.75 C614.50 520.42 615.26 522.08 616.03 523.75 C616.79 525.42 617.56 527.08 618.32 528.75 C619.09 530.42 619.86 532.08 620.62 533.75 C621.39 535.42 622.16 537.08 622.93 538.75 C623.70 540.42 624.47 542.08 625.25 543.75 C626.02 545.42 626.79 547.08 627.57 548.75 C628.35 550.42 629.13 552.08 629.91 553.75 C630.70 555.42 631.48 557.08 632.28 558.75 C633.07 560.42 633.87 562.08 634.67 563.75 C635.48 565.42 636.29 567.08 637.11 568.75 C637.93 570.42 638.75 572.08 639.59 573.75 C640.43 575.42 641.28 577.08 642.13 578.75 C642.99 580.42 643.86 582.08 644.75 583.75 C645.63 585.42 646.53 587.08 647.44 588.75 C648.35 590.42 649.27 592.08 650.22 593.75 C651.16 595.42 652.12 597.08 653.09 598.75 C654.07 600.42 655.06 602.08 656.08 603.75 C657.09 605.42 658.12 607.08 659.17 608.75 C660.23 610.42 661.30 612.08 662.40 613.75 C663.49 615.42 664.61 617.08 665.75 618.75 C666.90 620.42 668.06 622.08 669.26 623.75 C670.45 625.42 671.34 626.67 672.91 628.75 C674.49 630.83 677.74 635.00 678.71 636.25"/>
<path d="M467.51 91.90 C467.76 92.73 468.54 95.23 469.05 96.90 C469.56 98.57 470.07 100.23 470.58 101.90 C471.08 103.57 471.59 105.23 472.08 106.90 C472.58 108.57 473.08 110.23 473.57 111.90 C474.07 113.57 474.56 115.23 475.04 116.90 C475.53 118.57 476.02 120.23 476.50 121.90 C476.99 123.57 477.47 125.23 477.95 126.90 C478.43 128.57 478.91 130.23 479.38 131.90 C479.86 133.57 480.34 135.23 480.81 136.90 C481.29 138.57 481.76 140.23 482.23 141.90 C482.70 143.57 483.17 145.23 483.65 146.90 C484.12 148.57 484.59 150.23 485.06 151.90 C485.53 153.57 486.00 155.23 486.47 156.90 C486.94 158.57 487.41 160.23 487.88 161.90 C488.35 163.57 488.82 165.23 489.29 166.90 C489.76 168.57 490.23 170.23 490.71 171.90 C491.18 173.57 491.66 175.23 492.13 176.90 C492.61 178.57 493.08 180.23 493.56 181.90 C494.04 183.57 494.52 185.23 495.00 186.90 C495.48 188.57 495.97 190.23 496.45 191.90 C496.94 193.57 497.43 195.23 497.92 196.90 C498.41 198.57 498.90 200.23 499.39 201.90 C499.89 203.57 500.39 205.23 500.89 206.90 C501.39 208.57 501.90 210.23 502.40 211.90 C502.91 213.57 503.42 215.23 503.94 216.90 C504.45 218.57 504.97 220.23 505.50 221.90 C506.02 223.57 506.54 225.23 507.08 226.90 C507.61 228.57 508.14 230.23 508.68 231.90 C509.22 233.57 509.77 235.23 510.31 236.90 C510.86 238.57 511.42 240.23 511.98 241.90 C512.54 243.57 513.10 245.23 513.67 246.90 C514.24 248.57 514.82 250.23 515.40 251.90 C515.98 253.57 516.57 255.23 517.16 256.90 C517.75 258.57 518.35 260.23 518.96 261.90 C519.56 263.57 520.17 265.23 520.79 266.90 C521.41 268.57 522.04 270.23 522.67 271.90 C523.30 273.57 523.94 275.23 524.59 276.90 C525.24 278.57 525.89 280.23 526.55 281.90 C527.21 283.57 527.88 285.23 528.56 286.90 C529.24 288.57 529.92 290.23 530.61 291.90 C531.30 293.57 532.00 295.23 532.71 296.90 C533.41 298.57 534.13 300.23 534.84 301.90 C535.56 303.57 536.29 305.23 537.02 306.90 C537.75 308.57 538.48 310.23 539.23 311.90 C539.97 313.57 540.71 315.23 541.47 316.90 C542.22 318.57 542.97 320.23 543.73 321.90 C544.50 323.57 545.26 325.23 546.03 326.90 C546.80 328.57 547.57 330.23 548.35 331.90 C549.12 333.57 549.91 335.23 550.69 336.90 C551.47 338.57 552.26 340.23 553.05 341.90 C553.83 343.57 554.62 345.23 555.42 346.90 C556.21 348.57 557.01 350.23 557.80 351.90 C558.60 353.57 559.40 355.23 560.20 356.90 C561.00 358.57 561.80 360.23 562.60 361.90 C563.40 363.57 564.20 365.23 565.00 366.90 C565.81 368.57 566.61 370.23 567.41 371.90 C568.21 373.57 569.02 375.23 569.82 376.90 C570.62 378.57 571.42 380.23 572.22 381.90 C573.02 383.57 573.82 385.23 574.62 386.90 C575.42 388.57 576.22 390.23 577.01 391.90 C577.81 393.57 578.61 395.23 579.40 396.90 C580.20 398.57 580.99 400.23 581.79 401.90 C582.58 403.57 583.37 405.23 584.16 406.90 C584.95 408.57 585.74 410.23 586.53 411.90 C587.32 413.57 588.11 415.23 588.89 416.90 C589.68 418.57 590.46 420.23 591.24 421.90 C592.03 423.57 592.81 425.23 593.58 426.90 C594.36 428.57 595.14 430.23 595.92 431.90 C596.69 433.57 597.46 435.23 598.24 436.90 C599.01 438.57 599.78 440.23 600.54 441.90 C601.31 443.57 602.08 445.23 602.84 446.90 C603.60 448.57 604.36 450.23 605.12 451.90 C605.88 453.57 606.63 455.23 607.39 456.90 C608.14 458.57 608.89 460.23 609.64 461.90 C610.39 463.57 611.13 465.23 611.88 466.90 C612.62 468.57 613.36 470.23 614.10 471.90 C614.84 473.57 615.57 475.23 616.31 476.90 C617.04 478.57 617.78 480.23 618.51 481.90 C619.24 483.57 619.97 485.23 620.70 486.90 C621.43 488.57 622.16 490.23 622.88 491.90 C623.61 493.57 624.34 495.23 625.06 496.90 C625.79 498.57 626.51 500.23 627.24 501.90 C627.96 503.57 628.68 505.23 629.41 506.90 C630.13 508.57 630.85 510.23 631.57 511.90 C632.30 513.57 633.02 515.23 633.74 516.90 C634.47 518.57 635.19 520.23 635.92 521.90 C636.64 523.57 637.37 525.23 638.10 526.90 C638.83 528.57 639.56 530.23 640.30 531.90 C641.04 533.57 641.77 535.23 642.52 536.90 C643.26 538.57 644.00 540.23 644.75 541.90 C645.50 543.57 646.26 545.23 647.02 546.90 C647.78 548.57 648.54 550.23 649.31 551.90 C650.08 553.57 650.86 555.23 651.64 556.90 C652.43 558.57 653.22 560.23 654.02 561.90 C654.82 563.57 655.62 565.23 656.44 566.90 C657.25 568.57 658.08 570.23 658.91 571.90 C659.75 573.57 660.59 575.23 661.44 576.90 C662.30 578.57 663.16 580.23 664.04 581.90 C664.92 583.57 665.81 585.23 666.71 586.90 C667.61 588.57 668.53 590.23 669.46 591.90 C670.38 593.57 671.33 595.23 672.28 596.90 C673.24 598.57 674.21 600.23 675.20 601.90 C676.19 603.57 677.19 605.23 678.21 606.90 C679.23 608.57 680.27 610.23 681.32 611.90 C682.38 613.57 683.45 615.23 684.54 616.90 C685.63 618.57 686.74 620.23 687.87 621.90 C689.00 623.57 690.15 625.23 691.32 626.90 C692.49 628.57 693.76 630.34 694.89 631.90 C696.03 633.46 697.57 635.52 698.11 636.25"/>
<path d="M485.61 91.90 C485.90 92.73 486.79 95.23 487.37 96.90 C487.95 98.57 488.53 100.23 489.10 101.90 C489.67 103.57 490.23 105.23 490.79 106.90 C491.35 108.57 491.90 110.23 492.45 111.90 C493.00 113.57 493.55 115.23 494.09 116.90 C494.63 118.57 495.16 120.23 495.69 121.90 C496.22 123.57 496.75 125.23 497.27 126.90 C497.80 128.57 498.32 130.23 498.83 131.90 C499.35 133.57 499.86 135.23 500.37 136.90 C500.88 138.57 501.39 140.23 501.90 141.90 C502.40 143.57 502.90 145.23 503.41 146.90 C503.91 148.57 504.41 150.23 504.90 151.90 C505.40 153.57 505.90 155.23 506.39 156.90 C506.89 158.57 507.38 160.23 507.87 161.90 C508.37 163.57 508.86 165.23 509.35 166.90 C509.84 168.57 510.33 170.23 510.82 171.90 C511.32 173.57 511.81 175.23 512.30 176.90 C512.79 178.57 513.28 180.23 513.78 181.90 C514.27 183.57 514.76 185.23 515.26 186.90 C515.76 188.57 516.25 190.23 516.75 191.90 C517.25 193.57 517.75 195.23 518.25 196.90 C518.76 198.57 519.26 200.23 519.77 201.90 C520.28 203.57 520.78 205.23 521.30 206.90 C521.81 208.57 522.32 210.23 522.84 211.90 C523.36 213.57 523.88 215.23 524.40 216.90 C524.92 218.57 525.45 220.23 525.98 221.90 C526.51 223.57 527.04 225.23 527.58 226.90 C528.12 228.57 528.66 230.23 529.20 231.90 C529.74 233.57 530.29 235.23 530.84 236.90 C531.40 238.57 531.95 240.23 532.51 241.90 C533.07 243.57 533.64 245.23 534.21 246.90 C534.78 248.57 535.35 250.23 535.93 251.90 C536.51 253.57 537.09 255.23 537.68 256.90 C538.27 258.57 538.86 260.23 539.46 261.90 C540.06 263.57 540.66 265.23 541.28 266.90 C541.89 268.57 542.50 270.23 543.12 271.90 C543.74 273.57 544.37 275.23 545.01 276.90 C545.64 278.57 546.28 280.23 546.93 281.90 C547.57 283.57 548.22 285.23 548.88 286.90 C549.54 288.57 550.21 290.23 550.88 291.90 C551.55 293.57 552.23 295.23 552.91 296.90 C553.59 298.57 554.28 300.23 554.98 301.90 C555.67 303.57 556.37 305.23 557.08 306.90 C557.78 308.57 558.49 310.23 559.21 311.90 C559.92 313.57 560.64 315.23 561.37 316.90 C562.09 318.57 562.82 320.23 563.55 321.90 C564.29 323.57 565.02 325.23 565.77 326.90 C566.51 328.57 567.25 330.23 568.00 331.90 C568.75 333.57 569.50 335.23 570.26 336.90 C571.01 338.57 571.77 340.23 572.53 341.90 C573.29 343.57 574.06 345.23 574.83 346.90 C575.59 348.57 576.36 350.23 577.14 351.90 C577.91 353.57 578.68 355.23 579.46 356.90 C580.24 358.57 581.01 360.23 581.79 361.90 C582.57 363.57 583.36 365.23 584.14 366.90 C584.92 368.57 585.71 370.23 586.49 371.90 C587.28 373.57 588.06 375.23 588.85 376.90 C589.64 378.57 590.43 380.23 591.21 381.90 C592.00 383.57 592.79 385.23 593.58 386.90 C594.37 388.57 595.16 390.23 595.95 391.90 C596.74 393.57 597.52 395.23 598.31 396.90 C599.10 398.57 599.89 400.23 600.67 401.90 C601.46 403.57 602.25 405.23 603.03 406.90 C603.81 408.57 604.60 410.23 605.38 411.90 C606.16 413.57 606.94 415.23 607.72 416.90 C608.50 418.57 609.28 420.23 610.05 421.90 C610.83 423.57 611.60 425.23 612.37 426.90 C613.14 428.57 613.91 430.23 614.68 431.90 C615.45 433.57 616.21 435.23 616.98 436.90 C617.74 438.57 618.51 440.23 619.27 441.90 C620.03 443.57 620.80 445.23 621.56 446.90 C622.32 448.57 623.08 450.23 623.84 451.90 C624.60 453.57 625.36 455.23 626.12 456.90 C626.88 458.57 627.64 460.23 628.40 461.90 C629.16 463.57 629.92 465.23 630.68 466.90 C631.44 468.57 632.20 470.23 632.96 471.90 C633.72 473.57 634.48 475.23 635.24 476.90 C636.00 478.57 636.77 480.23 637.53 481.90 C638.29 483.57 639.06 485.23 639.82 486.90 C640.59 488.57 641.36 490.23 642.13 491.90 C642.89 493.57 643.66 495.23 644.43 496.90 C645.21 498.57 645.98 500.23 646.75 501.90 C647.53 503.57 648.31 505.23 649.09 506.90 C649.86 508.57 650.65 510.23 651.43 511.90 C652.21 513.57 653.00 515.23 653.79 516.90 C654.58 518.57 655.37 520.23 656.16 521.90 C656.96 523.57 657.75 525.23 658.56 526.90 C659.36 528.57 660.16 530.23 660.97 531.90 C661.77 533.57 662.58 535.23 663.40 536.90 C664.21 538.57 665.03 540.23 665.85 541.90 C666.67 543.57 667.50 545.23 668.33 546.90 C669.16 548.57 669.99 550.23 670.83 551.90 C671.66 553.57 672.51 555.23 673.35 556.90 C674.20 558.57 675.05 560.23 675.91 561.90 C676.76 563.57 677.62 565.23 678.49 566.90 C679.36 568.57 680.23 570.23 681.10 571.90 C681.98 573.57 682.86 575.23 683.75 576.90 C684.63 578.57 685.53 580.23 686.42 581.90 C687.32 583.57 688.23 585.23 689.14 586.90 C690.05 588.57 690.96 590.23 691.89 591.90 C692.81 593.57 693.74 595.23 694.67 596.90 C695.61 598.57 696.55 600.23 697.50 601.90 C698.45 603.57 699.40 605.23 700.36 606.90 C701.32 608.57 702.29 610.23 703.27 611.90 C704.25 613.57 705.23 615.23 706.22 616.90 C707.21 618.57 708.21 620.23 709.22 621.90 C710.22 623.57 711.23 625.23 712.26 626.90 C713.28 628.57 714.38 630.34 715.35 631.90 C716.31 633.46 717.62 635.52 718.07 636.25"/>
</g>
<g font-size="13" fill="#5e564d">
<text x="205.3" y="113.6" textLength="17.6" lengthAdjust="spacingAndGlyphs">2A</text>
<text x="254.5" y="113.6" textLength="17.6" lengthAdjust="spacingAndGlyphs">4A</text>
<text x="284.5" y="113.6" textLength="17.6" lengthAdjust="spacingAndGlyphs">6A</text>
<text x="310.5" y="113.6" textLength="25" lengthAdjust="spacingAndGlyphs">10A</text>
<text x="345" y="113.6" textLength="25" lengthAdjust="spacingAndGlyphs">16A</text>
<text x="377.5" y="113.6" textLength="25" lengthAdjust="spacingAndGlyphs">25A</text>
<text x="412" y="113.6" textLength="25" lengthAdjust="spacingAndGlyphs">40A</text>
<text x="438.8" y="113.6" textLength="25" lengthAdjust="spacingAndGlyphs">63A</text>
<text x="355.5" y="98.5" textLength="25" lengthAdjust="spacingAndGlyphs">20A</text>
<text x="393" y="98.5" textLength="25" lengthAdjust="spacingAndGlyphs">35A</text>
<text x="428" y="98.5" textLength="25" lengthAdjust="spacingAndGlyphs">50A</text>
<text x="456.3" y="86.9" textLength="25" lengthAdjust="spacingAndGlyphs">80A</text>
<text x="472.5" y="72.5" textLength="31.2" lengthAdjust="spacingAndGlyphs">100A</text>
</g>
<g font-size="13" fill="#5e564d">
<text x="194" y="58.5" text-anchor="end">2</text>
<text x="194" y="104.0" text-anchor="end">6</text>
<text x="194" y="119.3" text-anchor="end">4</text>
<text x="194" y="145.5" text-anchor="end">2</text>
<text x="194" y="191.0" text-anchor="end">6</text>
<text x="194" y="206.3" text-anchor="end">4</text>
<text x="194" y="232.5" text-anchor="end">2</text>
<text x="194" y="278.0" text-anchor="end">6</text>
<text x="194" y="293.3" text-anchor="end">4</text>
<text x="194" y="319.5" text-anchor="end">2</text>
<text x="194" y="365.0" text-anchor="end">6</text>
<text x="194" y="380.3" text-anchor="end">4</text>
<text x="194" y="406.5" text-anchor="end">2</text>
<text x="194" y="452.0" text-anchor="end">6</text>
<text x="194" y="467.3" text-anchor="end">4</text>
<text x="194" y="493.5" text-anchor="end">2</text>
<text x="194" y="539.0" text-anchor="end">6</text>
<text x="194" y="554.3" text-anchor="end">4</text>
<text x="194" y="580.5" text-anchor="end">2</text>
<text x="194" y="626.0" text-anchor="end">6</text>
<text x="194" y="641.3" text-anchor="end">4</text>
<text x="194.3" y="84.7" text-anchor="end">10<tspan font-size="7.5" dy="-5">4</tspan></text>
<text x="194.3" y="171.7" text-anchor="end">10<tspan font-size="7.5" dy="-5">3</tspan></text>
<text x="194.3" y="258.7" text-anchor="end">10<tspan font-size="7.5" dy="-5">2</tspan></text>
<text x="194.3" y="345.7" text-anchor="end">10<tspan font-size="7.5" dy="-5">1</tspan></text>
<text x="194.3" y="432.7" text-anchor="end">10<tspan font-size="7.5" dy="-5">0</tspan></text>
<text x="195.5" y="519.7" text-anchor="end">10<tspan font-size="7.5" dy="-5">-1</tspan></text>
<text x="195.5" y="606.7" text-anchor="end">10<tspan font-size="7.5" dy="-5">-2</tspan></text>
<text x="223.0" y="652.6" text-anchor="middle">4</text>
<text x="252.0" y="652.6" text-anchor="middle">6</text>
<text x="341.0" y="652.6" text-anchor="middle">2</text>
<text x="395.0" y="652.6" text-anchor="middle">4</text>
<text x="426.8" y="652.6" text-anchor="middle">6</text>
<text x="516.6" y="652.6" text-anchor="middle">2</text>
<text x="568.4" y="652.6" text-anchor="middle">4</text>
<text x="601.9" y="652.6" text-anchor="middle">6</text>
<text x="692.5" y="652.6" text-anchor="middle">2</text>
<text x="286.3" y="652.6">10<tspan font-size="7.5" dy="-5">1</tspan></text>
<text x="456.9" y="652.6">10<tspan font-size="7.5" dy="-5">2</tspan></text>
<text x="636.0" y="652.6">10<tspan font-size="7.5" dy="-5">3</tspan></text>
<text x="672" y="666.3">I<tspan font-size="7.5" dy="3">p</tspan><tspan dy="-3">/A</tspan></text>
<path d="M698 663 H710 M707.5 661.3 L710.5 663 L707.5 664.7" stroke="#5e564d" stroke-width="0.9" fill="none"/>
<g transform="translate(171.5,113) rotate(-90)"><text x="0" y="0">t<tspan font-size="7.5" dy="3">v</tspan><tspan dy="-3">/s</tspan></text><path d="M27 -4.5 H39 M36.5 -6.2 L39.5 -4.5 L36.5 -2.8" stroke="#5e564d" stroke-width="0.9" fill="none"/></g>
</g>
</g>
<g>
<path d="M199.7 338.3 H466.8" stroke="#e00b0b" stroke-width="2.8" fill="none"/>
<path d="M465.4 336.9 V638.8" stroke="#e00b0b" stroke-width="2.8" fill="none"/>
<line x1="873.80" y1="183.40" x2="474.14" y2="333.21" stroke="#13a853" stroke-width="3.4"/>
<polygon points="465.90,336.30 474.15,327.55 477.87,337.47" fill="#13a853"/>
<text x="897.2" y="190.9" font-size="19.8" fill="#13a853" textLength="165" lengthAdjust="spacingAndGlyphs" xml:space="preserve">Neozed D02  35A</text>
<text x="421.8" y="702.6" font-size="20.3" font-weight="bold" fill="#e00b0b" textLength="86.5" lengthAdjust="spacingAndGlyphs">Ca. 105A</text>
</g>
</svg></body></html>
